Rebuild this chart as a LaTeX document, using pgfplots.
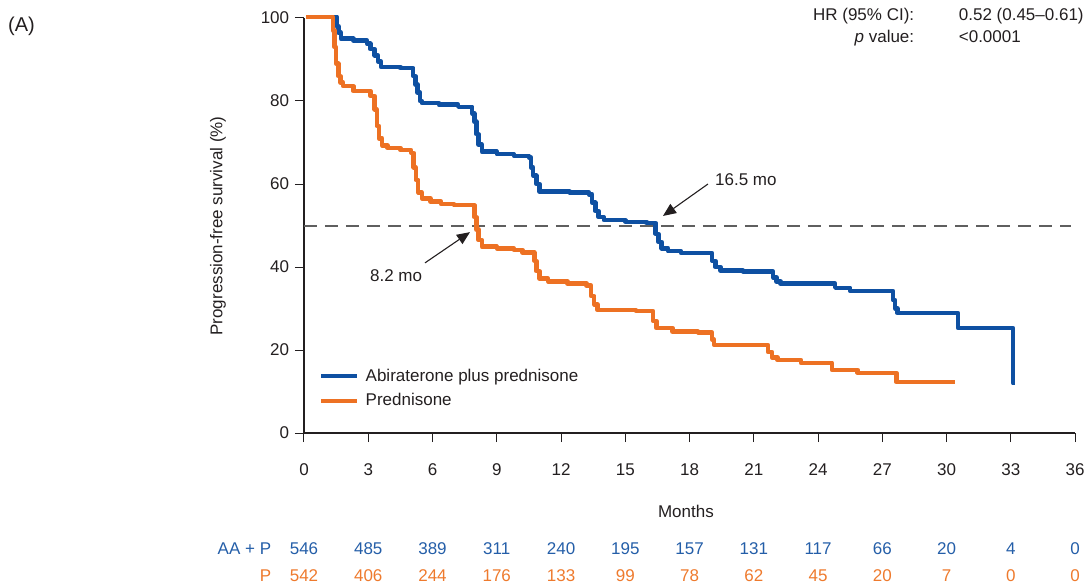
\documentclass[border=0pt]{standalone}
\usepackage{fontspec}
\setmainfont{Liberation Sans}
\usepackage{pgfplots}
\pgfplotsset{compat=1.18}
\usetikzlibrary{arrows.meta}
\definecolor{cblue}{RGB}{14,80,162}
\definecolor{corange}{RGB}{237,113,35}
\definecolor{cdark}{RGB}{35,31,32}
\definecolor{rblue}{RGB}{36,94,168}
\definecolor{rorange}{RGB}{238,122,45}
\definecolor{dgray}{RGB}{95,95,95}
\begin{document}
\fontsize{17}{20}\selectfont
\begin{tikzpicture}[font=\fontsize{17}{20}\selectfont, text=cdark]
\useasboundingbox (-304pt,-151pt) rectangle (781pt,433pt);
\begin{axis}[
  at={(0pt,0pt)}, anchor=origin,
  x=21.42pt, y=4.15pt,
  xmin=0, xmax=36, ymin=0, ymax=100,
  clip=false,
  axis x line*=bottom, axis y line*=left,
  axis line style={cdark, line width=1.2pt, -},
  tick style={cdark, line width=1pt},
  major tick length=9pt,
  tick align=outside,
  xtick={0,3,...,36}, ytick={0,20,...,100},
  /pgf/number format/assume math mode=true,
  tick label style={font=\fontsize{17}{20}\selectfont, text=cdark},
  xticklabel style={yshift=-16pt},
  legend cell align=left,
  legend style={draw=none, fill=none, at={(axis cs:0.70,16.0)}, anchor=north west,
    font=\fontsize{17}{20}\selectfont, row sep=6pt, inner sep=0pt},
  legend image code/.code={\draw[#1] (0pt,0pt) -- (36pt,0pt); \path (40pt,0pt);},
]
\addplot[dgray, line width=2pt, dash pattern=on 13pt off 8pt, forget plot] coordinates {(0,50) (35.8,50)};

\addplot[const plot, cblue, line width=4.5pt, line join=round] table {
x y
0.1 100.3
1.54 98
1.62 96.5
1.72 95
2.3 94.6
2.94 93.8
3.1 92.5
3.3 91
3.45 89.5
3.6 88.2
4.5 87.9
5.1 86
5.2 84
5.3 82
5.42 80
5.5 79.5
6.3 79.1
7.2 78.6
7.85 77
7.95 75
8.05 72
8.15 69.5
8.3 67.8
9.0 67.2
9.8 66.8
10.5 66.4
10.6 64
10.7 62
10.85 60
11.0 58.2
12.4 58
13.3 57.5
13.45 55.5
13.6 53.5
13.75 52
14.0 51.3
15.0 50.9
16.0 50.6
16.42 48
16.55 46
16.7 44.5
17.0 43.8
17.6 43.4
19.05 41.5
19.2 40
19.45 39.1
20.5 38.9
21.9 37.5
22.05 36.5
22.25 36.0
24.8 35
25.5 34.2
27.5 32
27.6 30
27.7 28.9
30.53 25.3
33.1 12
33.2 12
};
\addlegendentry{Abiraterone plus prednisone}

\addplot[const plot, corange, line width=4.5pt, line join=round] table {
x y
0.1 100.3
1.35 97
1.42 93
1.5 89
1.6 86
1.7 84.5
1.82 83.6
2.3 82.4
3.1 81.2
3.3 78
3.4 74
3.5 71
3.65 69.3
3.9 68.7
4.5 68.2
5.0 67.5
5.12 64
5.22 61
5.33 58
5.5 56.5
5.9 55.8
6.4 55.2
7.0 54.9
7.95 52
8.05 49
8.15 46.5
8.3 44.9
9.0 44.5
9.8 44.1
10.2 43.5
10.75 41.5
10.85 39
11.0 37.2
11.4 36.5
12.3 36.0
13.2 35.5
13.4 33
13.55 31
13.7 29.6
15.5 29.4
16.3 27
16.45 25.3
17.2 24.4
18.4 24.2
19.05 22.5
19.15 21.2
21.66 19.5
21.85 18.2
22.1 17.6
23.2 16.9
24.65 15.2
25.85 14.5
27.65 12.3
30.4 12.3
};
\addlegendentry{Prednisone}

% annotations
\draw[cdark, line width=1.1pt, -{Triangle[length=13pt,width=11pt]}] (axis cs:18.86,60.0) -- (axis cs:16.76,52.3);
\node[anchor=center, text=cdark] at (axis cs:20.63,61.0) {16.5 mo};
\draw[cdark, line width=1.1pt, -{Triangle[length=13pt,width=11pt]}] (axis cs:5.65,41.0) -- (axis cs:7.75,48.4);
\node[anchor=center, text=cdark] at (axis cs:4.30,37.8) {8.2 mo};

% top right stats
\node[anchor=base east] at (axis cs:28.76,99.3) {HR (95\% CI):};
\node[anchor=base west] at (axis cs:30.3,99.3) {0.52 (0.45--0.61)};
\node[anchor=base east] at (axis cs:28.76,94.0) {\textit{p} value:};
\node[anchor=base west] at (axis cs:30.3,94.0) {<0.0001};

% panel label
\node[anchor=base west, inner sep=0pt, font=\fontsize{20}{24}\selectfont] at (axis cs:-13.82,96.7) {(A)};

% axis labels
\node[rotate=90, anchor=center] at (axis cs:-4.01,49.9) {Progression-free survival (\%)};
\node[anchor=center] at (axis cs:17.83,-19.0) {Months};

% numbers at risk
\node[anchor=base east, text=rblue] at (axis cs:-1.26,-29.2) {AA + P};
\node[anchor=base east, text=rorange] at (axis cs:-1.26,-35.7) {P};
\node[anchor=base, text=rblue] at (axis cs:0,-29.2) {546};
\node[anchor=base, text=rblue] at (axis cs:3,-29.2) {485};
\node[anchor=base, text=rblue] at (axis cs:6,-29.2) {389};
\node[anchor=base, text=rblue] at (axis cs:9,-29.2) {311};
\node[anchor=base, text=rblue] at (axis cs:12,-29.2) {240};
\node[anchor=base, text=rblue] at (axis cs:15,-29.2) {195};
\node[anchor=base, text=rblue] at (axis cs:18,-29.2) {157};
\node[anchor=base, text=rblue] at (axis cs:21,-29.2) {131};
\node[anchor=base, text=rblue] at (axis cs:24,-29.2) {117};
\node[anchor=base, text=rblue] at (axis cs:27,-29.2) {66};
\node[anchor=base, text=rblue] at (axis cs:30,-29.2) {20};
\node[anchor=base, text=rblue] at (axis cs:33,-29.2) {4};
\node[anchor=base, text=rblue] at (axis cs:36,-29.2) {0};
\node[anchor=base, text=rorange] at (axis cs:0,-35.7) {542};
\node[anchor=base, text=rorange] at (axis cs:3,-35.7) {406};
\node[anchor=base, text=rorange] at (axis cs:6,-35.7) {244};
\node[anchor=base, text=rorange] at (axis cs:9,-35.7) {176};
\node[anchor=base, text=rorange] at (axis cs:12,-35.7) {133};
\node[anchor=base, text=rorange] at (axis cs:15,-35.7) {99};
\node[anchor=base, text=rorange] at (axis cs:18,-35.7) {78};
\node[anchor=base, text=rorange] at (axis cs:21,-35.7) {62};
\node[anchor=base, text=rorange] at (axis cs:24,-35.7) {45};
\node[anchor=base, text=rorange] at (axis cs:27,-35.7) {20};
\node[anchor=base, text=rorange] at (axis cs:30,-35.7) {7};
\node[anchor=base, text=rorange] at (axis cs:33,-35.7) {0};
\node[anchor=base, text=rorange] at (axis cs:36,-35.7) {0};
\end{axis}
\end{tikzpicture}
\end{document}
